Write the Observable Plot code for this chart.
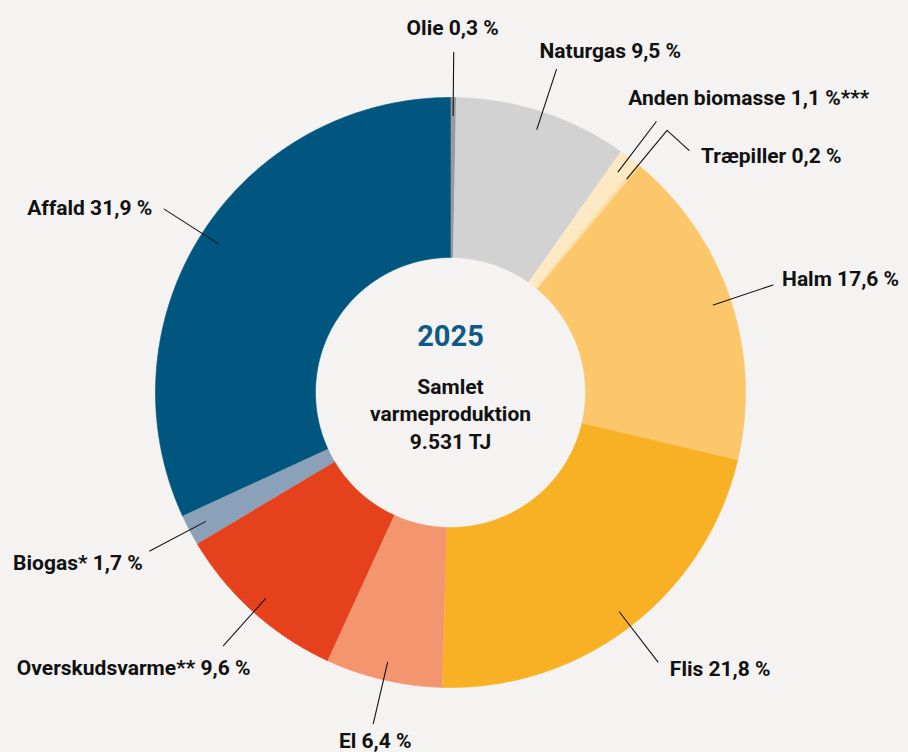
<!DOCTYPE html>
<html>
<head>
<meta charset="utf-8">
<script src="https://cdn.jsdelivr.net/npm/d3@7"></script>
<script src="https://cdn.jsdelivr.net/npm/@observablehq/plot@0.6"></script>
<style>
  html, body { margin: 0; padding: 0; background: #f4f3f1; }
  #chart svg { display: block; }
</style>
</head>
<body>
<div id="chart"></div>
<script>
// ---- data ----
const categories = ["Olie", "Naturgas", "Anden biomasse", "Træpiller", "Halm", "Flis", "El", "Overskudsvarme", "Biogas", "Affald"];
const values = [0.3, 9.5, 1.1, 0.2, 17.6, 21.8, 6.4, 9.6, 1.7, 31.9];
const labels = ["Olie 0,3 %", "Naturgas 9,5 %", "Anden biomasse 1,1 %***", "Træpiller 0,2 %", "Halm 17,6 %", "Flis 21,8 %", "El 6,4 %", "Overskudsvarme** 9,6 %", "Biogas* 1,7 %", "Affald 31,9 %"];
const colors = ["#9a9a9a", "#d2d2d2", "#fde8c4", "#fddca2", "#fcc66a", "#f8b124", "#f3956f", "#e6411d", "#8ba1b9", "#00567f"];
const centerYear = "2025";
const centerText = "Samlet\nvarmeproduktion\n9.531 TJ";

// ---- layout (styling, not data) ----
const W = 908, H = 752;
const R = 295, r0 = 135;           // outer / inner radius (px)
const leadIn = 277, leadOut = 340; // leader line radii
// label placement relative to leader end: [textAnchor, dx, dy]
const labelPlace = {
  "Olie": ["middle", -1, -24],
  "Naturgas": ["start", -17, -18],
  "Anden biomasse": ["start", -28, -23],
  "Træpiller": ["start", 12, 6],
  "Halm": ["start", 9, -6],
  "Flis": ["start", 12, 7],
  "El": ["middle", 2, 18],
  "Overskudsvarme": ["end", 27, 23],
  "Biogas": ["end", -7, 12],
  "Affald": ["end", -12, -1]
};
const elbow = {"Træpiller": [22, 20]}; // extra leader segment (screen px)

const pie = d3.pie().sort(null).value((d) => d.value);
const arcs = pie(categories.map((c, i) => ({category: c, value: values[i], label: labels[i]})));

// polar -> data coords (y up, origin at donut center)
const px = (rad, a) => rad * Math.sin(a);
const py = (rad, a) => rad * Math.cos(a);

const ringPts = [];
for (const a of arcs) {
  const n = Math.max(2, Math.ceil((a.endAngle - a.startAngle) / 0.01));
  const pts = [];
  for (let k = 0; k <= n; k++) {
    const t = a.startAngle + (a.endAngle - a.startAngle) * k / n;
    pts.push({x: px(R, t), y: py(R, t)});
  }
  for (let k = n; k >= 0; k--) {
    const t = a.startAngle + (a.endAngle - a.startAngle) * k / n;
    pts.push({x: px(r0, t), y: py(r0, t)});
  }
  for (const p of pts) ringPts.push({...p, category: a.data.category});
}

const leaderPts = [];
const labelRows = [];
for (const a of arcs) {
  const m = (a.startAngle + a.endAngle) / 2;
  const c = a.data.category;
  let ex = px(leadOut, m), ey = py(leadOut, m);
  leaderPts.push({x: px(leadIn, m), y: py(leadIn, m), category: c});
  leaderPts.push({x: ex, y: ey, category: c});
  if (elbow[c]) {
    ex += elbow[c][0]; ey -= elbow[c][1];
    leaderPts.push({x: ex, y: ey, category: c});
  }
  const [anchor, dx, dy] = labelPlace[c];
  labelRows.push({x: ex, y: ey, label: a.data.label, anchor, dx, dy});
}

const font = "Roboto, 'Open Sans', sans-serif";
const textMark = (anchor) => Plot.text(labelRows.filter((d) => d.anchor === anchor), {
  x: "x", y: "y", text: "label",
  dx: (d) => d.dx, dy: (d) => d.dy,
  textAnchor: anchor, lineAnchor: "middle",
  fontSize: 21, fontWeight: 700, fill: "#111"
});

function offsetText(anchor) {
  // Plot's dx/dy are constants; apply per-row offsets via separate marks
  return labelRows.filter((d) => d.anchor === anchor).map((d) =>
    Plot.text([d], {x: "x", y: "y", text: "label", dx: d.dx, dy: d.dy,
      textAnchor: anchor, lineAnchor: "middle", fontSize: 21, fontWeight: 700, fill: "#111"}));
}

const chart = Plot.plot({
  width: W, height: H, margin: 0,
  style: {background: "#f4f3f1", fontFamily: font},
  x: {domain: [-450, W - 450], range: [0, W], axis: null},
  y: {domain: [-(H - 392), 392], range: [H, 0], axis: null},
  color: {domain: categories, range: colors},
  marks: [
    Plot.line(ringPts, {x: "x", y: "y", z: "category", fill: "category", stroke: "category", strokeWidth: 0.6, curve: "linear"}),
    Plot.line(leaderPts, {x: "x", y: "y", z: "category", stroke: "#111", strokeWidth: 1.1}),
    ...offsetText("start"), ...offsetText("middle"), ...offsetText("end"),
    Plot.text([centerYear], {x: () => 0, y: () => 0, text: (d) => d, dy: -56, lineAnchor: "middle", fontSize: 29, fontWeight: 700, fill: "#0d5a86"}),
    Plot.text([centerText], {x: () => 0, y: () => 0, text: (d) => d, dy: 20, lineAnchor: "middle", lineHeight: 1.33, fontSize: 21, fontWeight: 700, fill: "#111"})
  ]
});
document.getElementById("chart").appendChild(chart);
</script>
</body>
</html>
